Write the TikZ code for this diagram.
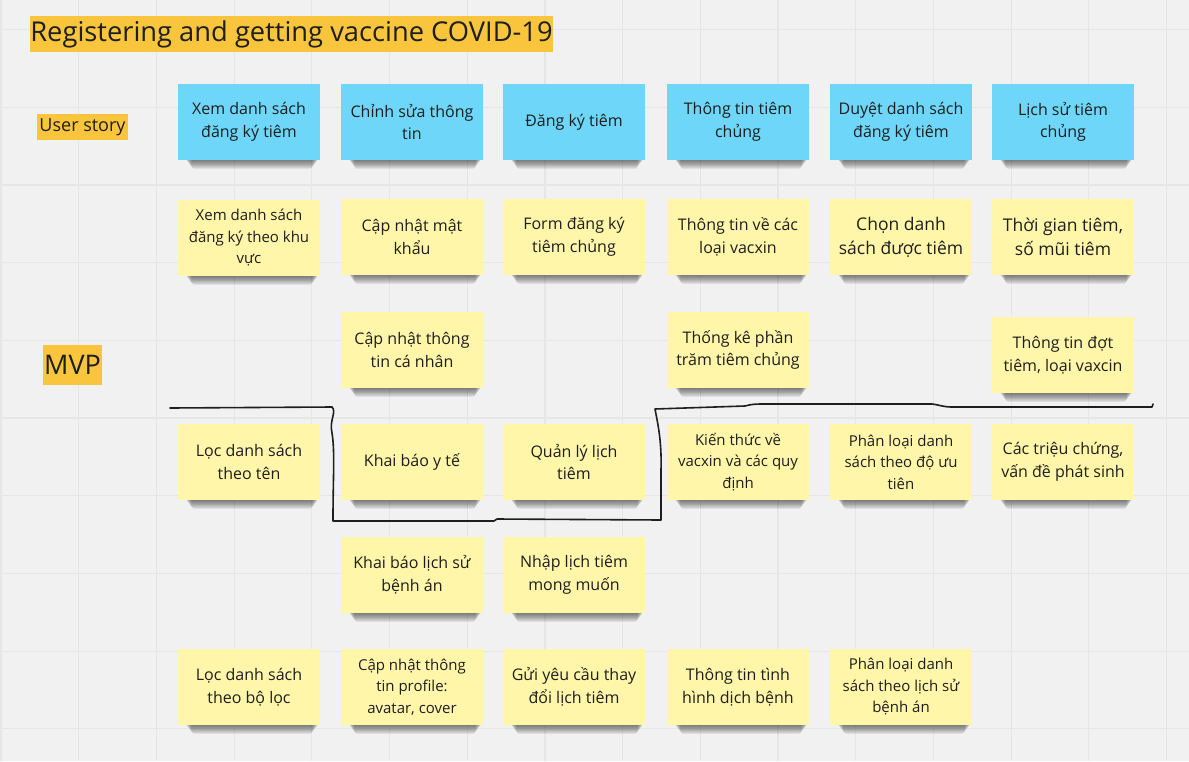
\documentclass[tikz,border=0pt]{standalone}
\usepackage{fontspec}
\setmainfont{Open Sans}
\pgfdeclarelayer{gridlayer}
\pgfdeclarelayer{shadowlayer}
\pgfsetlayers{gridlayer,shadowlayer,main}
\definecolor{bgc}{HTML}{F1F1F1}
\definecolor{gridc}{HTML}{E6E6E6}
\definecolor{bluenote}{HTML}{6ED7F9}
\definecolor{yellownote}{HTML}{FFF6A9}
\definecolor{hilite}{HTML}{F9C53D}
\definecolor{ink}{HTML}{1E1E1E}
\tikzset{
  note/.style={minimum width=142pt, minimum height=76pt, inner sep=0pt, align=center, text=ink,
    font=\fontsize{16}{22.5}\selectfont},
  bnote/.style={note, fill=bluenote},
  ynote/.style={note, fill=yellownote},
  smalltext/.style={font=\fontsize{15}{21.5}\selectfont},
  bigtext/.style={font=\fontsize{17.5}{24}\selectfont},
  hlabel/.style={fill=hilite, text=ink, inner sep=0pt},
  sketch/.style={draw=ink, line width=1.6pt, line cap=round, line join=round},
}
\begin{document}
\begin{tikzpicture}[x=1pt,y=-1pt]
\useasboundingbox (0,0) rectangle (1189,761);
\begin{pgfonlayer}{gridlayer}
  \fill[bgc] (0,0) rectangle (1189,761);
  \foreach \i in {0,...,15} {\draw[gridc, line width=1.2pt] ({1+77.7*\i},0) -- ({1+77.7*\i},761);}
  \foreach \j in {0,...,9} {\draw[gridc, line width=1.2pt] (0,{29.5+77.7*\j}) -- (1189,{29.5+77.7*\j});}
\end{pgfonlayer}

% labels
\node[hlabel, minimum width=521pt, minimum height=36pt, font=\fontsize{27.3}{30}\selectfont] (title) at (291.5,34) {Registering and getting vaccine COVID-19};
\node[hlabel, minimum width=91pt, minimum height=26pt, font=\fontsize{18}{20}\selectfont] (userstory) at (82.5,127) {User story};
\node[hlabel, minimum width=59pt, minimum height=40pt, font=\fontsize{27}{30}\selectfont] (mvp) at (72.5,365) {MVP};

% row 1
\node[bnote] (r1c1) at (249,122) {Xem danh sách\\đăng ký tiêm};
\node[bnote] (r1c2) at (412,122) {Chỉnh sửa thông\\tin};
\node[bnote] (r1c3) at (574,122) {Đăng ký tiêm};
\node[bnote] (r1c4) at (738,122) {Thông tin tiêm\\chủng};
\node[bnote] (r1c5) at (901,122) {Duyệt danh sách\\đăng ký tiêm};
\node[bnote] (r1c6) at (1063,122) {Lịch sử tiêm\\chủng};

% row 2
\node[ynote, smalltext] (r2c1) at (249,238) {Xem danh sách\\đăng ký theo khu\\vực};
\node[ynote] (r2c2) at (412,237) {Cập nhật mật\\khẩu};
\node[ynote] (r2c3) at (574,237) {Form đăng ký\\tiêm chủng};
\node[ynote] (r2c4) at (738,237) {Thông tin về các\\loại vacxin};
\node[ynote, bigtext] (r2c5) at (901,237) {Chọn danh\\sách được tiêm};
\node[ynote, bigtext] (r2c6) at (1063,237) {Thời gian tiêm,\\số mũi tiêm};

% row 3
\node[ynote] (r3c2) at (412,350) {Cập nhật thông\\tin cá nhân};
\node[ynote] (r3c4) at (738,350) {Thống kê phần\\trăm tiêm chủng};
\node[ynote] (r3c6) at (1063,355) {Thông tin đợt\\tiêm, loại vaxcin};

% row 4
\node[ynote] (r4c1) at (249,462) {Lọc danh sách\\theo tên};
\node[ynote] (r4c2) at (412,462) {Khai báo y tế};
\node[ynote] (r4c3) at (574,462) {Quản lý lịch\\tiêm};
\node[ynote, smalltext] (r4c4) at (738,462) {Kiến thức về\\vacxin và các quy\\định};
\node[ynote, smalltext] (r4c5) at (901,462) {Phân loại danh\\sách theo độ ưu\\tiên};
\node[ynote] (r4c6) at (1063,462) {Các triệu chứng,\\vấn đề phát sinh};

% row 5
\node[ynote] (r5c2) at (412,575) {Khai báo lịch sử\\bệnh án};
\node[ynote] (r5c3) at (574,575) {Nhập lịch tiêm\\mong muốn};

% row 6
\node[ynote] (r6c1) at (249,687) {Lọc danh sách\\theo bộ lọc};
\node[ynote, smalltext] (r6c2) at (412,687) {Cập nhật thông\\tin profile:\\avatar, cover};
\node[ynote] (r6c3) at (574,687) {Gửi yêu cầu thay\\đổi lịch tiêm};
\node[ynote] (r6c4) at (738,687) {Thông tin tình\\hình dịch bệnh};
\node[ynote, smalltext] (r6c5) at (901,687) {Phân loại danh\\sách theo lịch sử\\bệnh án};

% shadows
\begin{pgfonlayer}{shadowlayer}
\foreach \n in {r1c1,r1c2,r1c3,r1c4,r1c5,r1c6,r2c1,r2c2,r2c3,r2c4,r2c5,r2c6,r3c2,r3c4,r3c6,r4c1,r4c2,r4c3,r4c4,r4c5,r4c6,r5c2,r5c3,r6c1,r6c2,r6c3,r6c4,r6c5} {
  \foreach \k in {0,...,7} {
    \fill[black, opacity=0.075, rounded corners=3pt] ([xshift={(8+\k*0.8)*1pt}, yshift=8pt]\n.south west) rectangle ([xshift={(-2-\k*0.8)*1pt}, yshift={-(1+1.1*\k)*1pt}]\n.south east);
  }
}
\end{pgfonlayer}

% MVP separator (hand drawn)
\coordinate (s1) at (170,408);
\coordinate (s2) at (332,407);
\coordinate (s3) at (333,519);
\coordinate (s4) at (494,521);
\coordinate (s5) at (661,520);
\coordinate (s6) at (655,409);
\coordinate (s7) at (1152,407);
\draw[sketch] (s1) -- (s2) .. controls (337,412) and (329,420) .. (332,433)
  .. controls (335,450) and (333,480) .. (s3) -- (333,521) -- (s4) -- (497,519) -- (s5)
  -- (661,470) .. controls (662,440) and (657,420) .. (s6)
  -- (745,406) .. controls (752,404) and (756,404) .. (765,404) -- (932,404)
  .. controls (940,405) and (943,407) .. (952,407) -- (s7) -- (1153,404);
\end{tikzpicture}
\end{document}
